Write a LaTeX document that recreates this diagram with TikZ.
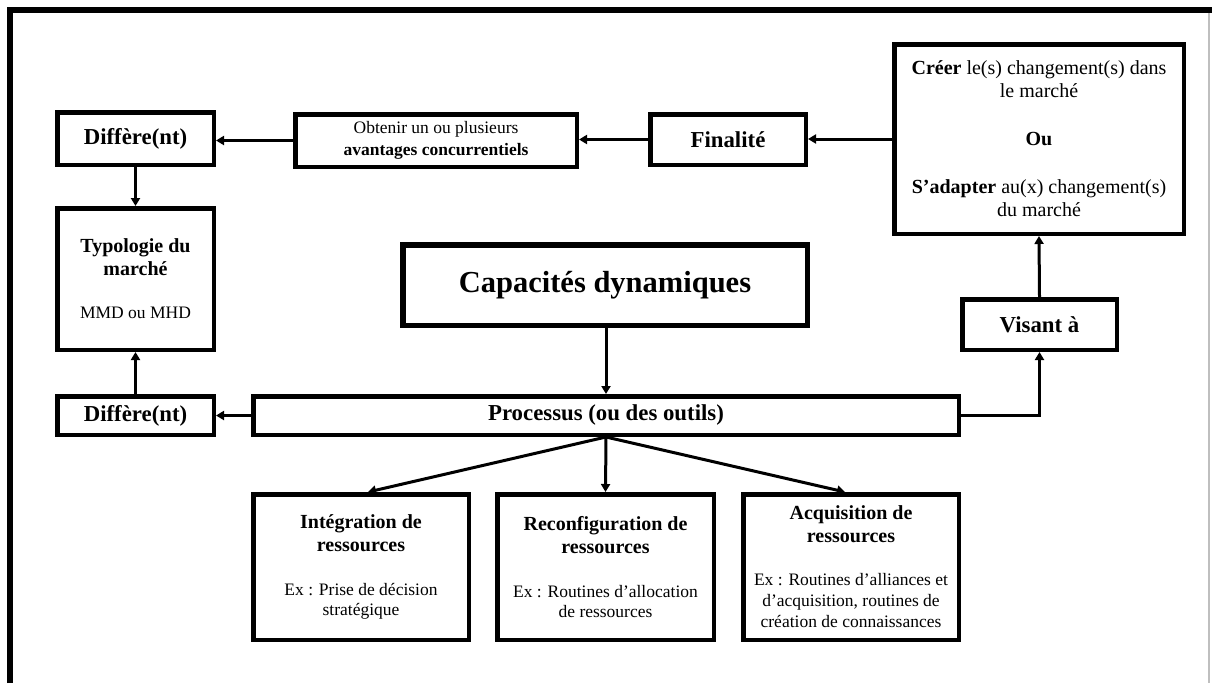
\documentclass[tikz,border=0pt]{standalone}
\usepackage{fontspec}
\setmainfont{Liberation Serif}
\usetikzlibrary{arrows.meta,calc}
\newcommand\fsBig{\fontsize{30.5}{33}\selectfont}
\newcommand\fsMid{\fontsize{22.8}{25}\selectfont}
\newcommand\fsHd{\fontsize{20}{23}\selectfont}
\newcommand\fsSm{\fontsize{17.5}{20.5}\selectfont}
\tikzset{
  box/.style={draw, line width=4.5pt, inner sep=0pt, align=center, fill=white},
  arr/.style={line width=3pt, -{Triangle[length=8pt,width=9pt]}},
}
\begin{document}
\begin{tikzpicture}[x=1pt,y=-1pt]
\useasboundingbox (0,0) rectangle (1212,683);
\fill[white] (0,0) rectangle (1212,683);
% frame
\draw[gray!50, line width=1.5pt] (1209,12) -- (1209,683);
\draw[line width=5.5pt] (10,683) -- (10,10) -- (1212,10);

% top row
\node[box, font=\fsMid, minimum width=156.5pt, minimum height=52.5pt] (dif1) at (135.5,138.5) {\textbf{Diffère(nt)}};
\node[box, font=\fontsize{17.5}{22}\selectfont, minimum width=281.5pt, minimum height=52.5pt] (obt) at (436,140.5) {Obtenir un ou plusieurs\\\textbf{avantages concurrentiels}};
\node[box, font=\fsMid, minimum width=155.5pt, minimum height=50.5pt] (fin) at (728,139.5) {\textbf{Finalité}};
\node[box, font=\fsHd, minimum width=289.5pt, minimum height=189.5pt] (cre) at (1039,139) {\textbf{Créer} le(s) changement(s) dans\\le marché\\[25pt]\textbf{Ou}\\[25pt]\textbf{S’adapter} au(x) changement(s)\\du marché};

% middle
\node[box, font=\fsHd, minimum width=156.5pt, minimum height=141.5pt] (typo) at (135.5,279) {\textbf{Typologie du}\\\textbf{marché}\\[20pt]\fsSm MMD ou MHD};
\node[box, line width=5.5pt, font=\fsBig, minimum width=404.5pt, minimum height=80.5pt] (cap) at (605,285) {\textbf{Capacités dynamiques}};
\node[box, font=\fsMid, minimum width=154.5pt, minimum height=50.5pt] (vis) at (1039.5,324.5) {\textbf{Visant à}};

% process row
\node[box, font=\fsMid, minimum width=156.5pt, minimum height=38.5pt] (dif2) at (135.5,415.5) {\textbf{Diffère(nt)}};
\node[box, font=\fsMid, minimum width=705.5pt, minimum height=38.5pt] (proc) at (606,415.5) {\textbf{Processus (ou des outils)}};

% bottom row
\node[box, font=\fsHd, minimum width=215.5pt, minimum height=145.5pt] (integ) at (361,567) {\textbf{Intégration de}\\\textbf{ressources}\\[21pt]\fsSm Ex : Prise de décision\\[-2.5pt]\fsSm stratégique};
\node[box, font=\fsHd, minimum width=216.5pt, minimum height=145.5pt] (reconf) at (605.5,567) {\textbf{Reconfiguration de}\\\textbf{ressources}\\[21pt]\fsSm Ex : Routines d’allocation\\[-2.5pt]\fsSm de ressources};
\node[box, font=\fsHd, minimum width=215.5pt, minimum height=145.5pt] (acq) at (851,567) {\textbf{Acquisition de}\\\textbf{ressources}\\[20pt]\fsSm Ex : Routines d’alliances et\\[-2pt]\fsSm d’acquisition, routines de\\[-2pt]\fsSm création de connaissances};

% connectors
\draw[arr] (obt.west) -- (obt.west -| dif1.east);
\draw[arr] (fin.west) -- (fin.west -| obt.east);
\draw[arr] (cre.west) -- (cre.west -| fin.east);
\draw[arr] (dif1.south) -- (typo.north);
\draw[arr] (dif2.north) -- (typo.south);
\draw[arr] (proc.west) -- (dif2.east);
\draw[arr] (cap.south -| proc.north) -- (proc.north);
\draw[arr] (proc.east) -| (vis.south);
\draw[arr] (vis.north) -- (cre.south);
\draw[arr] (proc.south) -- ([xshift=7pt]integ.north);
\draw[arr] (proc.south) -- (reconf.north);
\draw[arr] (proc.south) -- ([xshift=-6pt]acq.north);
\end{tikzpicture}
\end{document}
